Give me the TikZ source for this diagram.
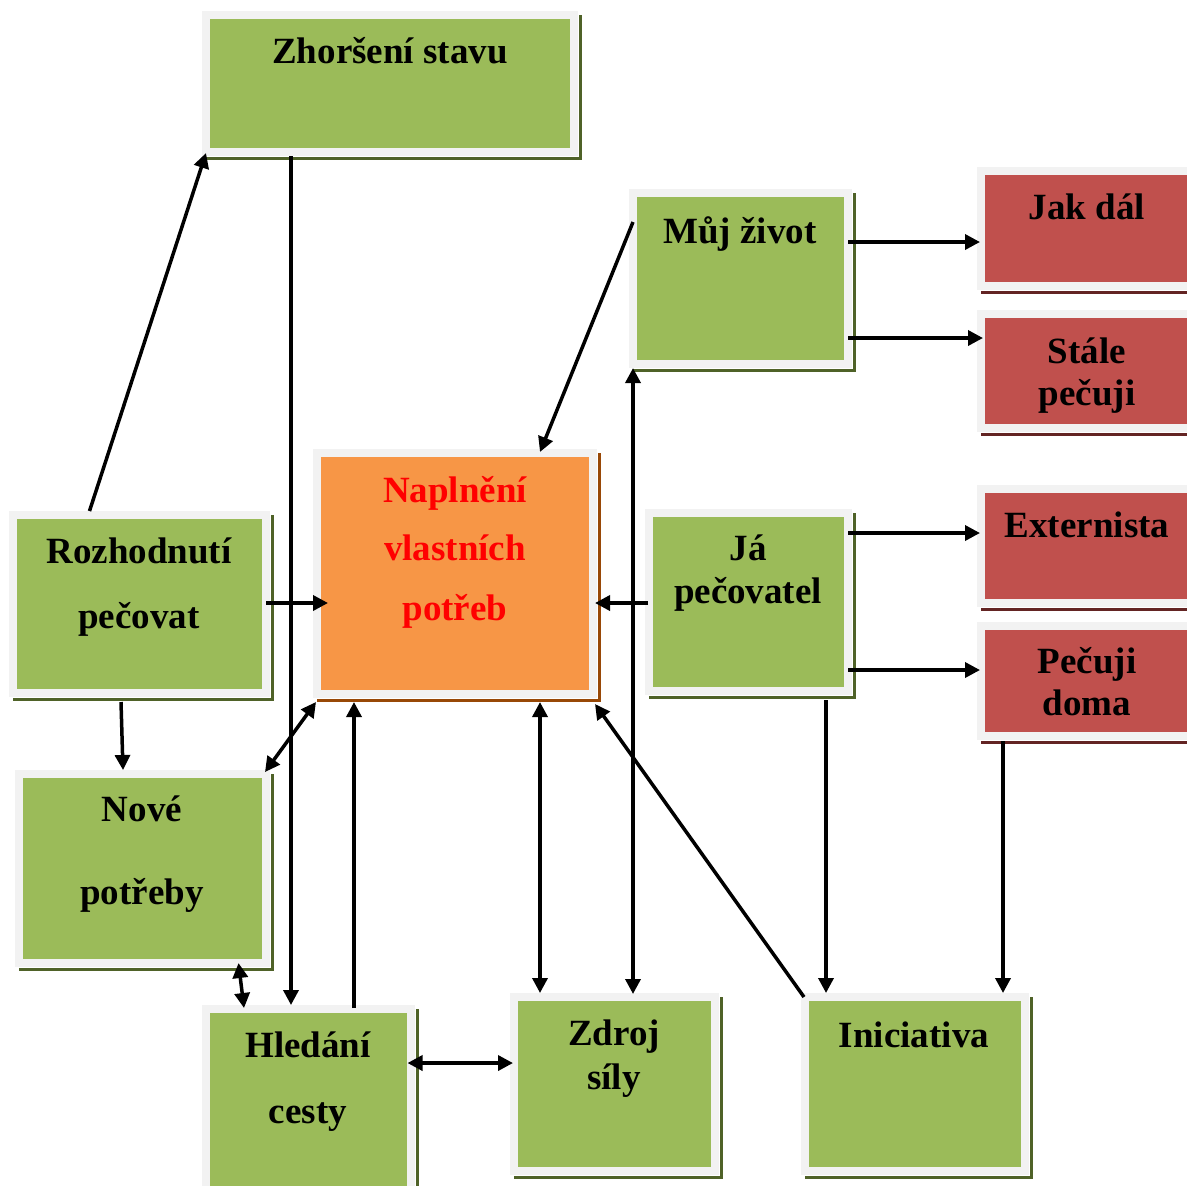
\documentclass[tikz,border=0pt]{standalone}
\usepackage{fontspec}
\setmainfont{Liberation Serif}
\usetikzlibrary{arrows.meta,calc}

\definecolor{boxgreen}{HTML}{9BBB59}
\definecolor{shadowgreen}{HTML}{4F6228}
\definecolor{boxred}{HTML}{C0504D}
\definecolor{shadowred}{HTML}{632423}
\definecolor{boxorange}{HTML}{F79646}
\definecolor{shadoworange}{HTML}{984806}
\definecolor{framegray}{HTML}{F2F2F2}
\definecolor{labelred}{HTML}{FF0000}

\begin{document}
\begin{tikzpicture}[
  x=0.5pt, y=-0.5pt,
  % framed box with a light frame, a thin white gap and a dark offset shadow
  box/.style 2 args={
    fill=#1, draw=framegray, line width=4pt, inner sep=0pt, outer sep=2pt,
    preaction={fill=#2, draw=#2, line width=4pt,
               transform canvas={shift={(2pt,-2pt)}}},
    preaction={fill=white, draw=white, line width=4pt,
               transform canvas={shift={(0.5pt,-0.5pt)}}}},
  gbox/.style={box={boxgreen}{shadowgreen}},
  rbox/.style={box={boxred}{shadowred}},
  obox/.style={box={boxorange}{shadoworange}},
  lbl/.style={anchor=base, inner sep=0pt,
              font=\bfseries\fontsize{18.5pt}{22pt}\selectfont},
  arrowhd/.tip={Triangle[length=7.5pt,width=7.5pt]},
  arr/.style={-arrowhd, line width=1.75pt},
  darr/.style={arrowhd-arrowhd, line width=1.75pt}
]
\useasboundingbox (0,0) rectangle (1187,1185);
\clip (0,0) rectangle (1187,1185);

% boxes
\node[gbox, minimum width=184pt,   minimum height=68.5pt] (zhor)  at (390,83.5)   {};
\node[gbox, minimum width=107.5pt, minimum height=85.5pt] (muj)   at (740.5,278.5) {};
\node[rbox, minimum width=105pt,   minimum height=57.5pt] (jak)   at (1086,228.5)  {};
\node[rbox, minimum width=105pt,   minimum height=57pt]   (stale) at (1086,371)    {};
\node[obox, minimum width=138pt,   minimum height=120.5pt] (napl) at (455,573.5)   {};
\node[gbox, minimum width=126.5pt, minimum height=89pt]   (rozh)  at (139.5,604)   {};
\node[gbox, minimum width=99.5pt,  minimum height=89pt]   (ja)    at (748.5,602)   {};
\node[rbox, minimum width=105pt,   minimum height=57pt]   (ext)   at (1086,546)    {};
\node[rbox, minimum width=105pt,   minimum height=55pt]   (doma)  at (1086,681)    {};
\node[gbox, minimum width=123.5pt, minimum height=94.5pt] (nove)  at (142.5,868.5) {};
\node[gbox, minimum width=102.5pt, minimum height=93.5pt] (hled)  at (308.5,1102.5) {};
\node[gbox, minimum width=100.5pt, minimum height=87pt]   (zdroj) at (614.5,1084)  {};
\node[gbox, minimum width=110pt,   minimum height=87pt]   (inic)  at (915,1084)    {};

% labels
\node[lbl] (zhorA)  at (390,63)   {Zhoršení stavu};
\node[lbl] (mujA)   at (740,243)  {Můj život};
\node[lbl] (jakA)   at (1087,219) {Jak dál};
\node[lbl] (staleA) at (1087,363) {Stále};
\node[lbl] (staleB) at (1087,405) {pečuji};
\node[lbl, text=labelred] (naplA) at (455,502) {Naplnění};
\node[lbl, text=labelred] (naplB) at (455,560) {vlastních};
\node[lbl, text=labelred] (naplC) at (455,620) {potřeb};
\node[lbl] (rozhA)  at (139,563)  {Rozhodnutí};
\node[lbl] (rozhB)  at (139,628)  {pečovat};
\node[lbl] (jaA)    at (748,560)  {Já};
\node[lbl] (jaB)    at (748,603)  {pečovatel};
\node[lbl] (extA)   at (1087,537) {Externista};
\node[lbl] (domaA)  at (1087,673) {Pečuji};
\node[lbl] (domaB)  at (1087,715) {doma};
\node[lbl] (noveA)  at (142,821)  {Nové};
\node[lbl] (noveB)  at (142,904)  {potřeby};
\node[lbl] (hledA)  at (308,1057) {Hledání};
\node[lbl] (hledB)  at (308,1123) {cesty};
\node[lbl] (zdrojA) at (614,1045) {Zdroj};
\node[lbl] (zdrojB) at (614,1089) {síly};
\node[lbl] (inicA)  at (914,1047) {Iniciativa};

% connectors
\draw[arr] ($(rozh.north)+(-50,0)$) -- ($(zhor.south west)+(4,-3)$);
\draw[arr] ($(zhor.south)+(-99,0)$) coordinate (z1) -- (z1 |- hled.north);
\draw[arr] ($(muj.west)+(4,-56.5)$) -- ($(napl.north)+(85,3)$);
\draw[arr] ($(muj.east)+(-4,-36.5)$) coordinate (m1) -- ($(m1 -| jak.west)+(3,0)$);
\draw[arr] ($(muj.east)+(-4,59.5)$) coordinate (m2) -- ($(m2 -| stale.west)+(6,0)$);
\draw[arr] ($(rozh.east)+(-4,-1)$) coordinate (r1) -- ($(r1 -| napl.west)+(15,0)$);
\draw[arr] ($(ja.west)+(3,1)$) coordinate (j0) -- ($(j0 -| napl.east)+(-2,0)$);
\draw[arr] ($(ja.east)+(-4,-69)$) coordinate (j2) -- ($(j2 -| ext.west)+(3,0)$);
\draw[arr] ($(ja.east)+(-4,68)$) coordinate (j3) -- ($(j3 -| doma.west)+(3,0)$);
\draw[arr] ($(rozh.south)+(-18.5,5)$) -- ($(nove.north)+(-19.5,0)$);
\draw[darr] ($(napl.south west)+(3,4)$) -- ($(nove.north east)+(-5,2)$);
\draw[arr] ($(hled.north)+(45.5,3)$) coordinate (h1) -- ($(h1 |- napl.south)+(0,4)$);
\draw[darr] ($(napl.south)+(85,4)$) coordinate (n1) -- (n1 |- zdroj.north);
\draw[darr] ($(muj.south)+(-107.5,0)$) coordinate (m3) -- ($(m3 |- zdroj.north)+(0,1)$);
\draw[arr] ($(inic.north west)+(3,4)$) -- ($(napl.south east)+(-2,6)$);
\draw[arr] ($(ja.south)+(77.5,5)$) coordinate (j4) -- (j4 |- inic.north);
\draw[arr] ($(doma.south)+(-83,1)$) coordinate (d1) -- (d1 |- inic.north);
\draw[darr] ($(nove.south)+(96,-4)$) -- ($(hled.north)+(-64.5,3)$);
\draw[darr] ($(hled.east)+(-7.5,-39.5)$) coordinate (h2) -- ($(h2 -| zdroj.west)+(3,0)$);
\end{tikzpicture}
\end{document}
